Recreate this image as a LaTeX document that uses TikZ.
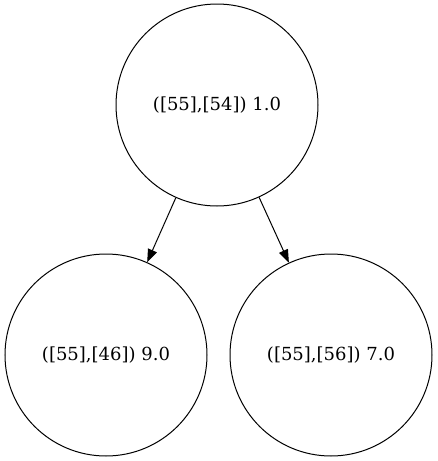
\documentclass[tikz,border=0pt]{standalone}
\usepackage{fontspec}
\setmainfont{DejaVu Serif}
\usetikzlibrary{arrows.meta}
\begin{document}
\begin{tikzpicture}[x=1pt,y=1pt,
  state/.style={draw,circle,line width=1pt,minimum size=202pt,inner sep=0pt,
    font=\fontsize{18}{20}\selectfont},
  edge/.style={line width=1pt,-{Triangle[length=13pt,width=9.5pt]}}]
  \useasboundingbox (0,0) rectangle (437,-461);
  \node[state] (root) at (217,-105) {([55],[54]) 1.0};
  \node[state] (left) at (106,-355) {([55],[46]) 9.0};
  \node[state] (right) at (331,-355) {([55],[56]) 7.0};
  \draw[edge] (root) -- (left);
  \draw[edge] (root) -- (right);
\end{tikzpicture}
\end{document}
